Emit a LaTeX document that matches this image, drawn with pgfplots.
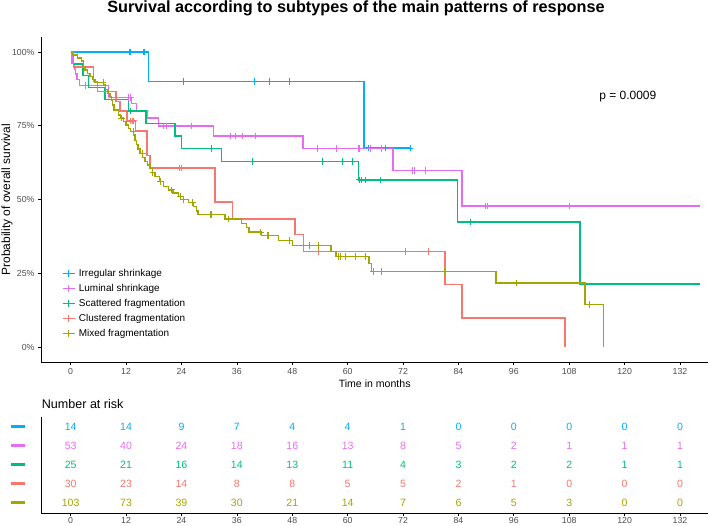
\documentclass[border=0pt]{standalone}
\usepackage{pgfplots}
\pgfplotsset{compat=1.18}
\usepackage{fontspec}
\setmainfont{Liberation Sans}
\definecolor{cIrr}{HTML}{00B0F6}
\definecolor{cLum}{HTML}{E76BF3}
\definecolor{cSca}{HTML}{00BF7D}
\definecolor{cClu}{HTML}{F8766D}
\definecolor{cMix}{HTML}{A3A500}
\definecolor{tickgrey}{HTML}{4D4D4D}
\newcommand{\fs}[1]{\fontsize{#1}{#1}\selectfont}

\pgfplotstableread{
t s
0 1
16.9 0.9
63.5 0.675
73.5 0.675
}\irr
\pgfplotstableread{
t s
12.7 1
13.0 1
15.7 1
15.9 1
24.5 0.9
39.9 0.9
43.0 0.9
47.3 0.9
64.6 0.675
68.1 0.675
73.5 0.675
}\irrc
\pgfplotstableread{
t s
0 1
0.3 0.962
0.8 0.943
1.1 0.925
1.4 0.906
1.9 0.887
8.2 0.847
13.2 0.826
14.3 0.80
16.5 0.776
19.0 0.75
30.9 0.716
50.3 0.673
69.8 0.599
84.8 0.479
136.3 0.479
}\lum
\pgfplotstableread{
t s
3.1 0.887
12.5 0.847
13.0 0.847
20.1 0.75
20.8 0.75
26.2 0.75
34.7 0.716
35.6 0.716
37.3 0.716
40.1 0.716
53.4 0.673
57.6 0.673
62.3 0.673
62.5 0.673
65.0 0.673
67.4 0.673
74.0 0.599
74.4 0.599
76.9 0.599
89.8 0.479
90.2 0.479
108.0 0.479
}\lumc
\pgfplotstableread{
t s
0 1
0.6 0.96
2.7 0.92
3.8 0.88
7.4 0.84
12.5 0.80
16.3 0.758
22.6 0.716
24.0 0.674
32.7 0.629
62.3 0.567
83.8 0.424
110.3 0.214
136.3 0.214
}\sca
\pgfplotstableread{
t s
13.0 0.80
30.4 0.674
39.4 0.629
54.5 0.629
58.9 0.629
61.1 0.629
62.6 0.567
62.9 0.567
63.8 0.567
67.0 0.567
86.7 0.424
}\scac
\pgfplotstableread{
t s
0 1
0.6 0.95
4.9 0.90
5.8 0.867
9.8 0.833
10.7 0.80
12.2 0.767
14.1 0.733
16.5 0.65
17.2 0.607
31.3 0.492
35.1 0.434
48.6 0.381
50.4 0.325
81.1 0.212
84.8 0.099
107.1 0
}\clu
\pgfplotstableread{
t s
13.0 0.767
13.3 0.767
13.6 0.767
23.6 0.607
23.9 0.607
53.6 0.325
72.6 0.325
77.6 0.325
}\cluc
\pgfplotstableread{
t s
0 1
0.4 0.99
1.5 0.98
2.4 0.97
2.8 0.951
3.1 0.939
3.6 0.928
4.2 0.917
4.8 0.906
5.3 0.896
7.1 0.888
7.6 0.874
8.1 0.86
8.5 0.849
8.9 0.838
9.1 0.82
9.4 0.804
10.3 0.787
10.8 0.776
11.4 0.764
12.0 0.753
12.5 0.742
13.0 0.73
13.6 0.719
13.9 0.70
14.3 0.686
14.6 0.672
15.0 0.657
15.6 0.643
16.1 0.629
16.6 0.618
17.2 0.607
17.7 0.592
18.3 0.578
19.2 0.561
20.1 0.544
21.2 0.533
22.2 0.522
23.3 0.511
24.4 0.50
25.5 0.49
26.6 0.477
27.3 0.462
27.6 0.449
33.4 0.434
37.0 0.42
38.1 0.405
38.6 0.39
41.4 0.378
45.0 0.361
48.0 0.345
56.4 0.325
57.5 0.308
64.6 0.283
65.2 0.257
92.1 0.218
111.4 0.144
115.4 0
}\mix
\pgfplotstableread{
t s
7.0 0.896
11.0 0.776
13.5 0.73
15.5 0.657
17.8 0.592
19.5 0.561
21.9 0.533
23.7 0.511
24.5 0.50
26.4 0.49
30.3 0.449
30.5 0.449
34.1 0.434
41.2 0.39
42.7 0.378
42.8 0.378
47.4 0.361
51.8 0.345
53.6 0.345
58.1 0.308
58.5 0.308
59.6 0.308
61.6 0.308
63.9 0.308
65.6 0.257
67.4 0.257
80.9 0.257
96.5 0.218
112.3 0.144
}\mixc

\pgfplotstableread{
x y n
0 5 14
12 5 14
24 5 9
36 5 7
48 5 4
60 5 4
72 5 1
84 5 0
96 5 0
108 5 0
120 5 0
132 5 0
}\rIrr
\pgfplotstableread{
x y n
0 4 53
12 4 40
24 4 24
36 4 18
48 4 16
60 4 13
72 4 8
84 4 5
96 4 2
108 4 1
120 4 1
132 4 1
}\rLum
\pgfplotstableread{
x y n
0 3 25
12 3 21
24 3 16
36 3 14
48 3 13
60 3 11
72 3 4
84 3 3
96 3 2
108 3 2
120 3 1
132 3 1
}\rSca
\pgfplotstableread{
x y n
0 2 30
12 2 23
24 2 14
36 2 8
48 2 8
60 2 5
72 2 5
84 2 2
96 2 1
108 2 0
120 2 0
132 2 0
}\rClu
\pgfplotstableread{
x y n
0 1 103
12 1 73
24 1 39
36 1 30
48 1 21
60 1 14
72 1 7
84 1 6
96 1 5
108 1 3
120 1 0
132 1 0
}\rMix

\pgfplotsset{
  km/.style={const plot, mark=none, line width=1.4bp, #1},
  cens/.style={only marks, mark=+, mark size=3.3bp, mark options={line width=0.9bp}, forget plot, #1},
  risk/.style={only marks, mark=text, text mark={}, 
    nodes near coords, point meta=explicit symbolic,
    every node near coord/.append style={text=#1, font=\fs{10.6}, anchor=center, inner sep=0pt}},
}

\begin{document}
\begin{tikzpicture}[x=1bp,y=1bp]
\path[use as bounding box] (0,0) rectangle (709,526);
\node[anchor=base, font=\bfseries\fs{16.3}] at (356,513) {Survival according to subtypes of the main patterns of response};

\begin{axis}[
  at={(41bp,164bp)}, anchor=south west,
  scale only axis, width=667.3bp, height=324.7bp,
  xmin=-6.43, xmax=138.13, ymin=-0.05, ymax=1.05,
  axis x line*=bottom, axis y line*=left,
  axis line style={line width=0.9bp, black, -},
  xtick={0,12,...,132}, ytick={0,0.25,0.5,0.75,1},
  yticklabels={0\%,25\%,50\%,75\%,100\%},
  tick align=outside, major tick length=3bp,
  tick style={black, line width=0.7bp},
  /pgf/number format/assume math mode=true,
  ticklabel style={font=\fs{8.8}, text=tickgrey},
  xlabel={Time in months}, ylabel={Probability of overall survival},
  xlabel style={font=\fs{10.6}, at={(axis description cs:0.5,-0.0678)}, anchor=center},
  ylabel style={font=\fs{12}, at={(axis description cs:-0.051,0.5)}, anchor=center},
  legend cell align=left,
  legend style={draw=none, fill=none, at={(axis cs:-1.95,0.275)}, anchor=north west,
    inner sep=0pt, font=\fs{10}, row sep=0pt,
    nodes={inner sep=0pt, minimum height=15bp},
    /tikz/every odd column/.append style={column sep=3.3bp}},
  legend image code/.code={
    \draw[#1, line width=1.4bp] (0bp,0bp) -- (12.3bp,0bp);
    \draw[#1, line width=0.9bp] (6.15bp,-3.3bp) -- (6.15bp,3.3bp);},
]
\addplot[km=cIrr] table {\irr}; \addlegendentry{Irregular shrinkage}
\addplot[km=cLum] table {\lum}; \addlegendentry{Luminal shrinkage}
\addplot[km=cSca] table {\sca}; \addlegendentry{Scattered fragmentation}
\addplot[km=cClu] table {\clu}; \addlegendentry{Clustered fragmentation}
\addplot[km=cMix] table {\mix}; \addlegendentry{Mixed fragmentation}
\addplot[cens=cIrr] table {\irrc};
\addplot[cens=cLum] table {\lumc};
\addplot[cens=cSca] table {\scac};
\addplot[cens=cClu] table {\cluc};
\addplot[cens=cMix] table {\mixc};
\node[font=\fs{12}] at (axis cs:120.7,0.849) {p = 0.0009};
\end{axis}

\node[anchor=west, font=\fs{12.6}, inner sep=0pt] at (41.7,122) {Number at risk};

\begin{axis}[
  at={(41bp,12.7bp)}, anchor=south west,
  scale only axis, width=667.3bp, height=96.6bp,
  xmin=-6.43, xmax=138.13, ymin=0.44, ymax=5.53,
  axis x line*=bottom, axis y line*=left,
  axis line style={line width=0.9bp, black, -},
  xtick={0,12,...,132}, ytick={1,2,3,4,5},
  yticklabels={\textcolor{cMix}{\rule{14bp}{3.2bp}},\textcolor{cClu}{\rule{14bp}{3.2bp}},\textcolor{cSca}{\rule{14bp}{3.2bp}},\textcolor{cLum}{\rule{14bp}{3.2bp}},\textcolor{cIrr}{\rule{14bp}{3.2bp}}},
  tick align=outside, major tick length=3bp,
  x tick style={black, line width=0.7bp},
  y tick style={draw=none},
  /pgf/number format/assume math mode=true,
  xticklabel style={font=\fs{8.8}, text=tickgrey, yshift=2.2bp},
  yticklabel style={anchor=east, inner sep=0pt, xshift=-13bp},
  clip=false,
]
\addplot[risk=cIrr] table[x=x, y=y, meta=n] {\rIrr};
\addplot[risk=cLum] table[x=x, y=y, meta=n] {\rLum};
\addplot[risk=cSca] table[x=x, y=y, meta=n] {\rSca};
\addplot[risk=cClu] table[x=x, y=y, meta=n] {\rClu};
\addplot[risk=cMix] table[x=x, y=y, meta=n] {\rMix};
\end{axis}
\end{tikzpicture}
\end{document}
